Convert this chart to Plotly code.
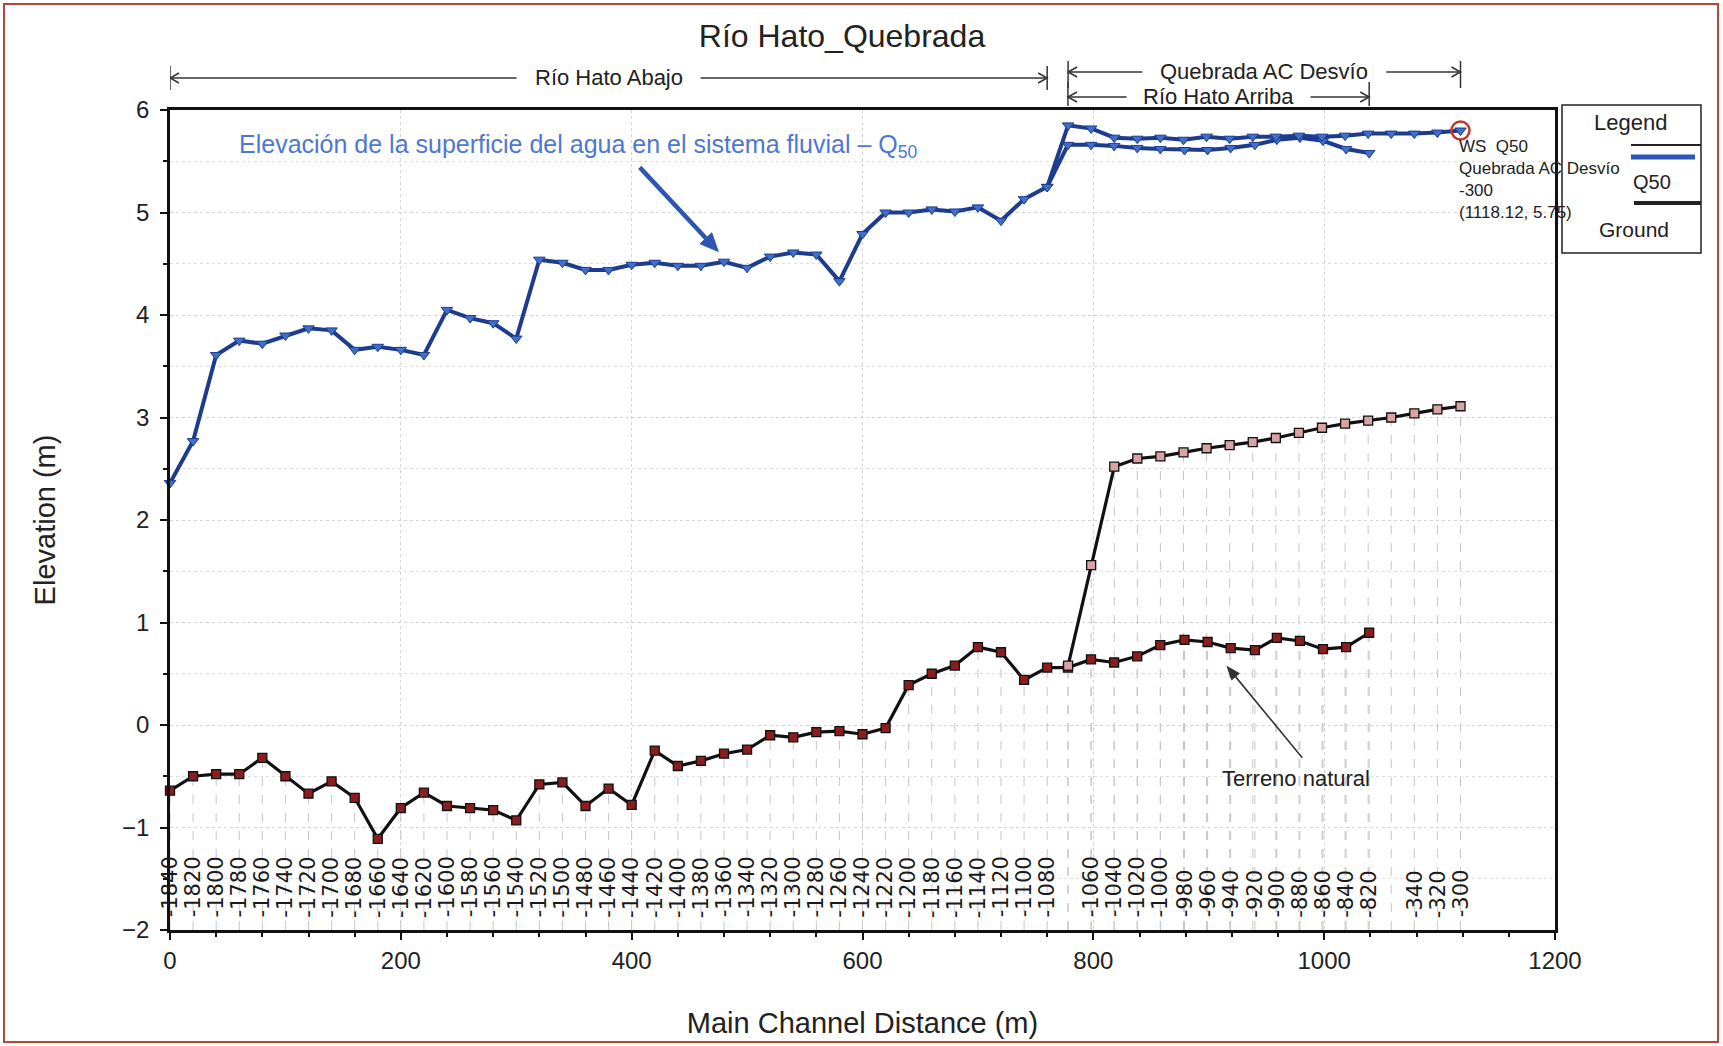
import math
import plotly.graph_objects as go

W, H = 1723, 1046
ML, MR, MT, MB = 170, 168, 110, 116
PW = W - ML - MR
PH = H - MT - MB
XMAX = 1200.0
YMIN, YMAX = -2.0, 6.0
PXU = PW / XMAX
PYU = PH / (YMAX - YMIN)


def px(X):
    return (X - ML) / PW


def py(Y):
    return (H - MB - Y) / PH


def d2p(x, y):
    return ML + x * PXU, MT + (YMAX - y) * PYU


def p2d(X, Y):
    return (X - ML) / PXU, YMAX - (Y - MT) / PYU


# ---------------- data ----------------
dist_abajo = [0, 20, 40, 60, 80, 100, 120, 140, 160, 180, 200, 220, 240, 260, 280,
              300, 320, 340, 360, 380, 400, 420, 440, 460, 480, 500, 520, 540, 560,
              580, 600, 620, 640, 660, 680, 700, 720, 740, 760]
ws_abajo = [2.36, 2.77, 3.61, 3.75, 3.72, 3.80, 3.87, 3.85, 3.66, 3.69, 3.66, 3.61,
            4.05, 3.97, 3.92, 3.77, 4.54, 4.51, 4.44, 4.44, 4.49, 4.51, 4.48, 4.48,
            4.52, 4.46, 4.57, 4.61, 4.59, 4.33, 4.79, 5.00, 5.00, 5.03, 5.01, 5.05,
            4.92, 5.13, 5.25]
ground_abajo = [-0.64, -0.50, -0.48, -0.48, -0.32, -0.50, -0.67, -0.55, -0.71, -1.11,
                -0.81, -0.66, -0.79, -0.81, -0.83, -0.93, -0.58, -0.56, -0.79, -0.62,
                -0.78, -0.25, -0.40, -0.35, -0.28, -0.24, -0.10, -0.12, -0.07, -0.06,
                -0.09, -0.03, 0.39, 0.50, 0.58, 0.76, 0.71, 0.44, 0.56]
sta_abajo = ["-1840", "-1820", "-1800", "-1780", "-1760", "-1740", "-1720", "-1700",
             "-1680", "-1660", "-1640", "-1620", "-1600", "-1580", "-1560", "-1540",
             "-1520", "-1500", "-1480", "-1460", "-1440", "-1420", "-1400", "-1380",
             "-1360", "-1340", "-1320", "-1300", "-1280", "-1260", "-1240", "-1220",
             "-1200", "-1180", "-1160", "-1140", "-1120", "-1100", "-1080"]

dist_arriba = [778, 798, 818, 838, 858, 879, 899, 919, 940, 959, 979, 999, 1019, 1039]
ws_arriba = [5.66, 5.66, 5.65, 5.63, 5.62, 5.61, 5.61, 5.63, 5.66, 5.71, 5.73, 5.70,
             5.62, 5.58]
ground_arriba = [0.56, 0.64, 0.61, 0.67, 0.78, 0.83, 0.81, 0.75, 0.73, 0.85, 0.82,
                 0.74, 0.76, 0.90]
sta_arriba = ["", "-1060", "-1040", "-1020", "-1000", "-980", "-960", "-940", "-920",
              "-900", "-880", "-860", "-840", "-820"]

dist_quebrada = [778.12, 798.12, 818.12, 838.12, 858.12, 878.12, 898.12, 918.12,
                 938.12, 958.12, 978.12, 998.12, 1018.12, 1038.12, 1058.12, 1078.12,
                 1098.12, 1118.12]
ws_quebrada = [5.85, 5.82, 5.73, 5.72, 5.73, 5.71, 5.74, 5.72, 5.74, 5.74, 5.75, 5.74,
               5.75, 5.77, 5.77, 5.77, 5.78, 5.80]
ground_quebrada = [0.58, 1.56, 2.52, 2.60, 2.62, 2.66, 2.70, 2.73, 2.76, 2.80, 2.85,
                   2.90, 2.94, 2.97, 3.00, 3.04, 3.08, 3.11]
sta_quebrada = ["-640", "-620", "-600", "-580", "-560", "-540", "-520", "-500", "-480",
                "-460", "-440", "-420", "-400", "-380", "-360", "-340", "-320", "-300"]

reach_names = ["Río Hato Abajo", "Quebrada AC Desvío", "Río Hato Arriba"]
reach_dists = [dist_abajo, dist_quebrada, dist_arriba]

# ---------------- styles ----------------
FONT = "Liberation Sans, Arial, sans-serif"
TXT = "#222222"
WS_LINE = "#1d3c8e"
WS_MARK = "#3f6fc9"
GR_MARK = "#8a1d1d"
GR_MARK_Q = "#d9a3a3"
BLUE_TXT = "#4d78d2"

fig = go.Figure()

# station dashed lines (from bottom to ground)
river_x = dist_abajo + dist_arriba
river_g = ground_abajo + ground_arriba
river_ws = ws_abajo + ws_arriba
sx, sy = [], []
for xv, gv in zip(river_x + dist_quebrada, river_g + ground_quebrada):
    sx += [xv, xv, None]
    sy += [YMIN, gv, None]
fig.add_trace(go.Scatter(x=sx, y=sy, mode="lines",
                         line=dict(color="#c6c6c6", width=1, dash="dash"),
                         hoverinfo="skip", showlegend=False))

# ground
fig.add_trace(go.Scatter(x=river_x, y=river_g, mode="lines+markers", name="Ground",
                         line=dict(color="#111111", width=3.2),
                         marker=dict(symbol="square", size=9, color=GR_MARK,
                                     line=dict(color="#111111", width=1.3)),
                         cliponaxis=False, showlegend=False))
fig.add_trace(go.Scatter(x=dist_quebrada, y=ground_quebrada, mode="lines+markers",
                         name="Ground",
                         line=dict(color="#111111", width=3.2),
                         marker=dict(symbol="square", size=9, color=GR_MARK_Q,
                                     line=dict(color="#111111", width=1.3)),
                         cliponaxis=False, showlegend=False))

# water surface
ws_style = dict(line=dict(color=WS_LINE, width=4),
                marker=dict(symbol="triangle-down", size=10, color=WS_MARK,
                            line=dict(color=WS_LINE, width=1)))
fig.add_trace(go.Scatter(x=river_x, y=river_ws, mode="lines+markers", name="WS Q50",
                         cliponaxis=False, showlegend=False, **ws_style))
fig.add_trace(go.Scatter(x=[dist_abajo[-1]] + dist_quebrada,
                         y=[ws_abajo[-1]] + ws_quebrada, mode="lines+markers",
                         name="WS Q50", cliponaxis=False, showlegend=False, **ws_style))

# highlighted point
fig.add_trace(go.Scatter(x=[dist_quebrada[-1]], y=[ws_quebrada[-1]], mode="markers",
                         marker=dict(symbol="circle-open", size=18, color="#c0392b",
                                     line=dict(color="#c0392b", width=2.5)),
                         cliponaxis=False, showlegend=False))

annotations = []
shapes = []

# station labels
lab_font = dict(family="DejaVu Sans, sans-serif", size=21, color="#1a1a1a")
river_sta = sta_abajo + sta_arriba
for xv, s in zip(river_x, river_sta):
    if s:
        annotations.append(dict(x=xv, y=-1.9, xref="x", yref="y", text=s,
                                textangle=-90, showarrow=False, xanchor="center",
                                yanchor="bottom", font=lab_font))
for xv, s in zip(dist_quebrada, sta_quebrada):
    if xv > max(dist_arriba) + 25:
        annotations.append(dict(x=xv, y=-1.9, xref="x", yref="y", text=s,
                                textangle=-90, showarrow=False, xanchor="center",
                                yanchor="bottom", font=lab_font))


def open_head_x(tip_x, y_paper, direction, color="#333333"):
    """Open arrowhead at data x / paper y, pointing left (-1) or right (+1)."""
    dx = 9 / PXU * (-direction)
    dy = 5 / PH
    path = (f"M {tip_x + dx},{y_paper + dy} L {tip_x},{y_paper} "
            f"L {tip_x + dx},{y_paper - dy}")
    return dict(type="path", xref="x", yref="paper", path=path,
                line=dict(color=color, width=1.5))


# reach labels with arrows
reach_layout = {
    "Río Hato Abajo": dict(yl=78, yb=(66, 90), half=80),
    "Quebrada AC Desvío": dict(yl=72, yb=(61, 88), half=110),
    "Río Hato Arriba": dict(yl=97, yb=(82, 106), half=80),
}
for name, d in zip(reach_names, reach_dists):
    lay = reach_layout[name]
    x0, x1 = d[0], d[-1]
    mid = (x0 + x1) / 2
    edge = (lay["half"] + 12) / PXU
    yl = py(lay["yl"])
    annotations.append(dict(x=mid, y=yl, xref="x", yref="paper", text=name,
                            showarrow=False, xanchor="center", yanchor="middle",
                            font=dict(family=FONT, size=22, color=TXT)))
    for tip, tail, direc in ((x0, mid - edge, -1), (x1, mid + edge, 1)):
        shapes.append(dict(type="line", xref="x", yref="paper", x0=tip, x1=tail,
                           y0=yl, y1=yl, line=dict(color="#333333", width=1.5)))
        shapes.append(open_head_x(tip, yl, direc))
        shapes.append(dict(type="line", xref="x", yref="paper", x0=tip, x1=tip,
                           y0=py(lay["yb"][0]), y1=py(lay["yb"][1]),
                           line=dict(color="#333333", width=1.5)))


def data_arrow(tail, tip, color, width, head_len, head_w):
    """Straight arrow in data coordinates with a filled head, built in pixel space."""
    X0, Y0 = d2p(*tail)
    X1, Y1 = d2p(*tip)
    L = math.hypot(X1 - X0, Y1 - Y0)
    ux, uy = (X1 - X0) / L, (Y1 - Y0) / L
    nx, ny = -uy, ux
    BX, BY = X1 - ux * head_len, Y1 - uy * head_len
    b = p2d(BX, BY)
    p1 = p2d(BX + nx * head_w, BY + ny * head_w)
    p2 = p2d(BX - nx * head_w, BY - ny * head_w)
    out = [dict(type="line", xref="x", yref="y", x0=tail[0], y0=tail[1], x1=b[0],
                y1=b[1], line=dict(color=color, width=width))]
    out.append(dict(type="path", xref="x", yref="y",
                    path=f"M {tip[0]},{tip[1]} L {p1[0]},{p1[1]} L {p2[0]},{p2[1]} Z",
                    fillcolor=color, line=dict(color=color, width=1)))
    return out


# blue annotation
annotations.append(dict(x=58, y=5.65, xref="x", yref="y",
                        text="Elevación de la superficie del agua en el sistema fluvial – Q<sub>50</sub>",
                        showarrow=False, xanchor="left", yanchor="middle",
                        font=dict(family=FONT, size=25, color=BLUE_TXT)))
shapes += data_arrow((407, 5.44), (475, 4.62), "#2c56b0", 4.5, 18, 8)

# terreno natural
annotations.append(dict(x=976, y=-0.52, xref="x", yref="y", text="Terreno natural",
                        showarrow=False, xanchor="center", yanchor="middle",
                        font=dict(family=FONT, size=22, color=TXT)))
shapes += data_arrow((981, -0.32), (916, 0.57), "#333333", 1.6, 13, 5)

# point readout
annotations.append(dict(x=dist_quebrada[-1], y=ws_quebrada[-1], xref="x", yref="y",
                        text="WS  Q50<br>Quebrada AC Desvío<br>" + sta_quebrada[-1]
                        + "<br>(1118.12, 5.75)",
                        showarrow=False, xanchor="left", yanchor="top", align="left",
                        xshift=-4, yshift=-4,
                        font=dict(family=FONT, size=17, color=TXT)))

# legend box (manual)
shapes.append(dict(type="rect", xref="paper", yref="paper", x0=px(1562), x1=px(1701),
                   y0=py(253), y1=py(105), line=dict(color="#222222", width=1.5)))
annotations.append(dict(x=px(1631), y=py(122), xref="paper", yref="paper",
                        text="Legend", showarrow=False, xanchor="center",
                        yanchor="middle", font=dict(family=FONT, size=22, color=TXT)))
shapes.append(dict(type="line", xref="paper", yref="paper", x0=px(1631), x1=px(1701),
                   y0=py(145), y1=py(145), line=dict(color="#222222", width=2)))
shapes.append(dict(type="line", xref="paper", yref="paper", x0=px(1631), x1=px(1695),
                   y0=py(157), y1=py(157), line=dict(color="#2a56b8", width=5)))
annotations.append(dict(x=px(1652), y=py(182), xref="paper", yref="paper",
                        text="Q50", showarrow=False, xanchor="center",
                        yanchor="middle", font=dict(family=FONT, size=20, color=TXT)))
shapes.append(dict(type="line", xref="paper", yref="paper", x0=px(1634), x1=px(1701),
                   y0=py(203), y1=py(203), line=dict(color="#222222", width=4)))
annotations.append(dict(x=px(1634), y=py(229), xref="paper", yref="paper",
                        text="Ground", showarrow=False, xanchor="center",
                        yanchor="middle", font=dict(family=FONT, size=21, color=TXT)))

# outer border
shapes.append(dict(type="rect", xref="paper", yref="paper", x0=px(4), x1=px(1718),
                   y0=py(1042), y1=py(4), line=dict(color="#b8463c", width=2)))

fig.update_layout(
    width=W, height=H,
    margin=dict(l=ML, r=MR, t=MT, b=MB),
    paper_bgcolor="white", plot_bgcolor="white",
    title=dict(text="Río Hato_Quebrada", x=px(842), xref="paper", xanchor="center",
               y=1 - 36 / H, yanchor="middle",
               font=dict(family=FONT, size=32, color=TXT)),
    font=dict(family=FONT, color=TXT),
    annotations=annotations, shapes=shapes, showlegend=False,
)
fig.update_xaxes(range=[0, XMAX], dtick=200, tick0=0, showgrid=True,
                 title=dict(text="Main Channel Distance (m)", standoff=41,
                            font=dict(family=FONT, size=29, color=TXT)),
                 automargin=False,
                 gridcolor="#d4d4d4", griddash="dot", gridwidth=1,
                 showline=True, linecolor="#111111", linewidth=2.5, mirror=True,
                 ticks="outside", ticklen=7, tickwidth=1.5, tickcolor="#111111",
                 tickfont=dict(family=FONT, size=24, color=TXT),
                 minor=dict(dtick=40, ticks="outside", ticklen=4, tickcolor="#111111",
                            showgrid=False),
                 zeroline=False)
fig.update_yaxes(range=[YMIN, YMAX], dtick=1, showgrid=True, gridcolor="#d4d4d4",
                 title=dict(text="Elevation (m)", standoff=58,
                            font=dict(family=FONT, size=29, color=TXT)),
                 automargin=False,
                 griddash="dot", gridwidth=1,
                 showline=True, linecolor="#111111", linewidth=2.5, mirror=True,
                 ticks="outside", ticklen=7, tickwidth=1.5, tickcolor="#111111",
                 ticklabelstandoff=6,
                 tickfont=dict(family=FONT, size=24, color=TXT),
                 minor=dict(dtick=0.5, ticks="outside", ticklen=4,
                            tickcolor="#111111", showgrid=True,
                            gridcolor="#dedede", griddash="dot"),
                 zeroline=False)

fig.write_html("out.html", config={"displayModeBar": False},
               post_script="document.body.style.margin='0';document.body.style.overflow='hidden';")
